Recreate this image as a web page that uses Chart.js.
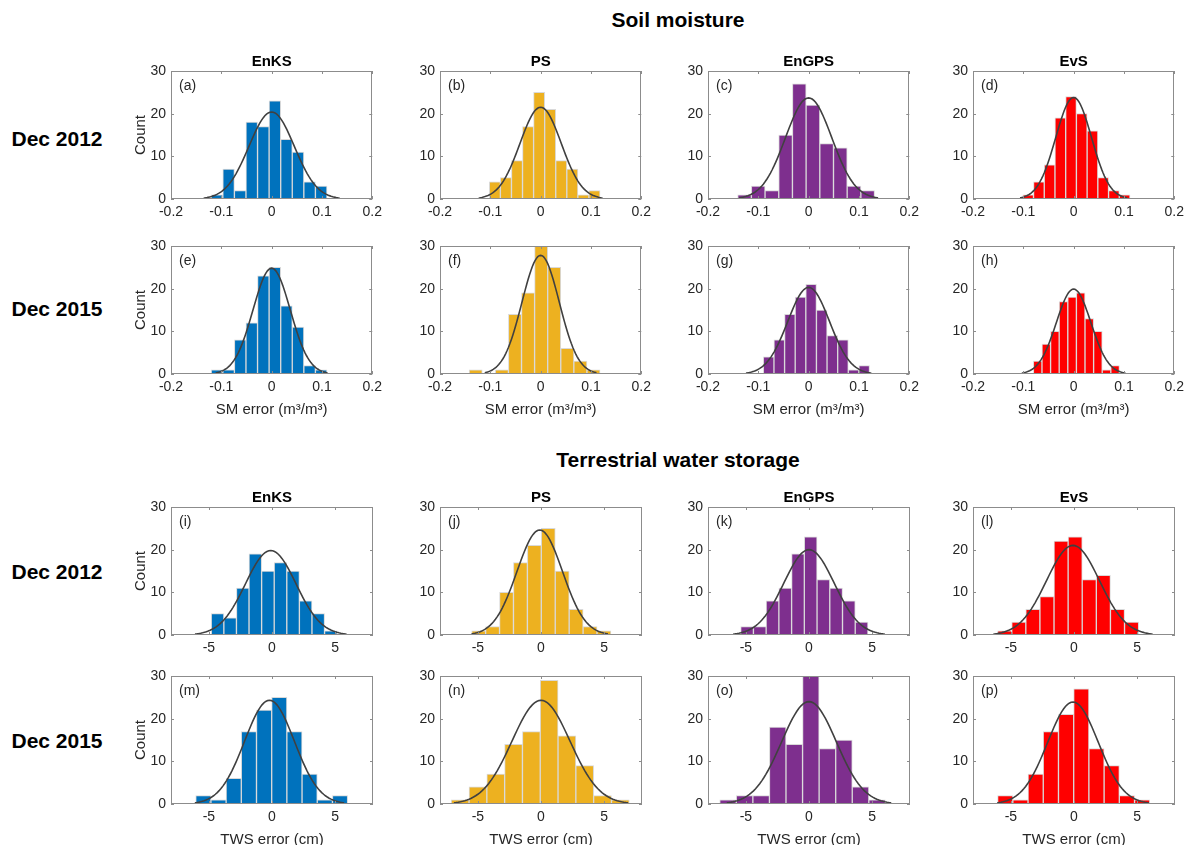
<!DOCTYPE html>
<html>
<head>
<meta charset="utf-8">
<script src="https://cdn.jsdelivr.net/npm/chart.js@4.4.1/dist/chart.umd.min.js"></script>
<style>
  body { margin: 0; background: #fff; width: 1197px; height: 845px; position: relative; overflow: hidden;
         font-family: "Liberation Sans", Arial, sans-serif; color: #000; }
  canvas { position: absolute; }
  .txt { position: absolute; white-space: nowrap; transform: translate(-50%, -50%); font-weight: bold; font-size: 21px; }
</style>
</head>
<body>
<div class="txt" style="left:678px;top:20px">Soil moisture</div>
<div class="txt" style="left:678px;top:460px">Terrestrial water storage</div>
<div class="txt" style="left:57px;top:139px">Dec 2012</div>
<div class="txt" style="left:57px;top:309px">Dec 2015</div>
<div class="txt" style="left:57px;top:572px">Dec 2012</div>
<div class="txt" style="left:57px;top:741px">Dec 2015</div>

<script>
// ==========================================================================
//   Données (histogrammes de 100 membres + courbe normale)
// ==========================================================================

const methods  = ['EnKS', 'PS', 'EnGPS', 'EvS'];
const couleurs = ['#0072BD', '#EDB120', '#7E2F8E', '#FF0000'];
const lettres  = 'abcdefghijklmnop'.split('');

const smTicks  = [-0.2, -0.1, 0, 0.1, 0.2];
const twsTicks = [-5, 0, 5];

// Humidité du sol : panneaux (a)..(h) — début du 1er intervalle, largeur, effectifs
const smDebut   = [-0.120, -0.102, -0.141, -0.101, -0.120, -0.142, -0.090, -0.080];
const smLargeur = [0.023, 0.022, 0.0272, 0.0213, 0.023, 0.026, 0.0211, 0.0171];
const smEffectifs = [
    [1, 7, 2, 18, 17, 23, 14, 11, 4, 3],     // (a)
    [4, 5, 9, 17, 25, 21, 9, 7, 1, 2],       // (b)
    [1, 3, 2, 15, 27, 22, 13, 12, 3, 2],     // (c)
    [1, 4, 8, 19, 24, 20, 16, 5, 2, 1],      // (d)
    [1, 1, 8, 12, 23, 25, 16, 11, 2, 1],     // (e)
    [1, 0, 1, 14, 19, 30, 25, 6, 3, 1],      // (f)
    [4, 8, 14, 18, 21, 15, 9, 8, 1, 2],      // (g)
    [3, 7, 10, 17, 18, 19, 13, 10, 1, 2]     // (h)
];
// courbe ajustée : moyenne, écart-type, hauteur du sommet
const smMoy    = [0, 0, 0, 0, 0, 0, 0, 0];
const smSigma  = [0.045, 0.041, 0.046, 0.0355, 0.037, 0.037, 0.0415, 0.0343];
const smSommet = [20.4, 21.5, 23.7, 23.8, 24.8, 27.8, 20.3, 19.9];

// Stock d'eau terrestre : panneaux (i)..(p)
const twsDebut   = [-4.81, -5.49, -5.41, -6.05, -6.04, -7.11, -7.07, -6.05];
const twsLargeur = [0.997, 1.103, 1.008, 1.117, 1.203, 1.41, 1.312, 1.205];
const twsEffectifs = [
    [5, 4, 11, 19, 15, 17, 15, 8, 5, 1],     // (i)
    [1, 2, 10, 17, 21, 25, 15, 6, 2, 1],     // (j)
    [2, 2, 8, 11, 19, 23, 13, 11, 8, 3],     // (k)
    [1, 3, 6, 9, 22, 23, 13, 14, 6, 3],      // (l)
    [2, 1, 6, 17, 22, 25, 17, 7, 1, 2],      // (m)
    [1, 4, 7, 14, 17, 29, 16, 9, 2, 1],      // (n)
    [1, 2, 2, 18, 14, 30, 13, 15, 4, 1],     // (o)
    [2, 1, 7, 17, 21, 27, 13, 9, 2, 1]       // (p)
];
const twsMoy    = [-0.1, -0.1, 0, -0.08, -0.2, 0, 0, -0.08];
const twsSigma  = [2.0, 1.8, 2.0, 2.1, 1.97, 2.3, 2.17, 2.0];
const twsSommet = [19.8, 24.6, 20.0, 21.0, 24.3, 24.3, 24.0, 23.9];

// ==========================================================================
//   Mise en page
// ==========================================================================

const colGauche = [171, 440, 708, 973];
const rangHaut  = [71, 246, 507, 676];
const cadreL = 202, cadreH = 128;
const MG = 50, MD = 14, MH = 22, MB = 50;   // marges autour du cadre dans chaque canvas

const police = '"Liberation Sans", Arial, sans-serif';
Chart.defaults.font.family = police;
const gris = '#262626';

// cadre façon MATLAB : boîte + graduations intérieures sur les 4 côtés, lettre, titre de colonne
const cadreMatlab = {
    id: 'cadreMatlab',
    afterDatasetsDraw(chart, args, opts) {
        const { ctx, chartArea: a, scales: { x, y } } = chart;
        ctx.save();
        ctx.strokeStyle = '#8c8c8c';
        ctx.lineWidth = 1;
        ctx.strokeRect(Math.round(a.left) + 0.5, Math.round(a.top) + 0.5,
                       Math.round(a.width) - 1, Math.round(a.height) - 1);
        ctx.beginPath();
        x.ticks.forEach(t => {
            const px = Math.round(x.getPixelForValue(t.value)) + 0.5;
            ctx.moveTo(px, a.bottom); ctx.lineTo(px, a.bottom - 3);
            ctx.moveTo(px, a.top);    ctx.lineTo(px, a.top + 3);
        });
        y.ticks.forEach(t => {
            const py = Math.round(y.getPixelForValue(t.value)) + 0.5;
            ctx.moveTo(a.left, py);  ctx.lineTo(a.left + 3, py);
            ctx.moveTo(a.right, py); ctx.lineTo(a.right - 3, py);
        });
        ctx.stroke();

        ctx.fillStyle = gris;
        ctx.font = '14px ' + police;
        ctx.textBaseline = 'middle';
        ctx.textAlign = 'left';
        ctx.fillText('(' + opts.lettre + ')', a.left + 8, a.top + 15);

        if (opts.titre) {
            ctx.fillStyle = '#000';
            ctx.font = 'bold 15px ' + police;
            ctx.textAlign = 'center';
            ctx.fillText(opts.titre, (a.left + a.right) / 2, a.top - 9);
        }
        ctx.restore();
    }
};

function dessinerPanneau(rang, col, idx, p) {
    const cv = document.createElement('canvas');
    cv.width  = MG + cadreL + MD;
    cv.height = MH + cadreH + MB;
    cv.style.left = (colGauche[col] - MG) + 'px';
    cv.style.top  = (rangHaut[rang] - MH) + 'px';
    document.body.appendChild(cv);

    const barres = p.effectifs.map((n, k) => ({ x: p.debut + (k + 0.5) * p.largeur, y: n }));

    const courbe = [];
    for (let k = 0; k <= 80; k++) {
        const xv = p.moy - 3 * p.sigma + k * 6 * p.sigma / 80;
        const z = (xv - p.moy) / p.sigma;
        courbe.push({ x: xv, y: p.sommet * Math.exp(-0.5 * z * z) });
    }

    new Chart(cv, {
        type: 'bar',
        data: {
            datasets: [
                {
                    type: 'line', data: courbe, order: 0,
                    borderColor: '#404040', borderWidth: 1.6, pointRadius: 0, tension: 0
                },
                {
                    type: 'bar', data: barres, order: 1,
                    backgroundColor: couleurs[col], borderColor: 'rgba(215,215,215,0.95)',
                    borderWidth: 1, borderSkipped: false,
                    barPercentage: 1, categoryPercentage: 1
                }
            ]
        },
        options: {
            responsive: false,
            animation: false,
            events: [],
            layout: { padding: { top: MH, right: MD, left: 0, bottom: 0 } },
            plugins: {
                legend: { display: false },
                tooltip: { enabled: false },
                cadreMatlab: { lettre: lettres[idx], titre: (rang % 2 === 0) ? methods[col] : '' }
            },
            scales: {
                x: {
                    type: 'linear', min: p.min, max: p.max, offset: false,
                    grid: { display: false, drawTicks: false },
                    border: { display: false },
                    afterBuildTicks: s => { s.ticks = p.ticks.map(v => ({ value: v })); },
                    afterFit: s => { s.height = MB; },
                    ticks: {
                        color: gris, font: { size: 14 }, padding: 5,
                        maxRotation: 0, autoSkip: false,
                        callback: v => String(v)
                    },
                    title: {
                        display: rang % 2 === 1, text: p.titreX, color: gris,
                        font: { size: 15 }, padding: { top: 0, bottom: 5 }
                    }
                },
                y: {
                    min: 0, max: 30,
                    grid: { display: false, drawTicks: false },
                    border: { display: false },
                    afterFit: s => { s.width = MG; },
                    ticks: { stepSize: 10, color: gris, font: { size: 14 }, padding: 5 },
                    title: {
                        display: col === 0, text: 'Count', color: gris,
                        font: { size: 15 }, padding: { top: 11, bottom: 0 }
                    }
                }
            }
        },
        plugins: [cadreMatlab]
    });
}

for (let i = 0; i < 8; i++) {
    dessinerPanneau(Math.floor(i / 4), i % 4, i, {
        debut: smDebut[i], largeur: smLargeur[i], effectifs: smEffectifs[i],
        moy: smMoy[i], sigma: smSigma[i], sommet: smSommet[i],
        min: -0.2, max: 0.2, ticks: smTicks, titreX: 'SM error (m³/m³)'
    });
    dessinerPanneau(2 + Math.floor(i / 4), i % 4, 8 + i, {
        debut: twsDebut[i], largeur: twsLargeur[i], effectifs: twsEffectifs[i],
        moy: twsMoy[i], sigma: twsSigma[i], sommet: twsSommet[i],
        min: -8, max: 8, ticks: twsTicks, titreX: 'TWS error (cm)'
    });
}
</script>
</body>
</html>
